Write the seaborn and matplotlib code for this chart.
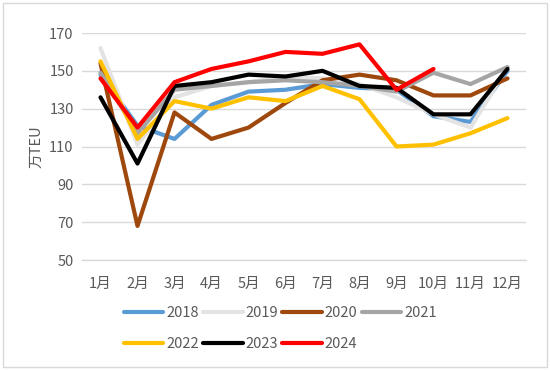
import matplotlib
matplotlib.use("Agg")
import matplotlib.pyplot as plt
import seaborn as sns
import pandas as pd
import numpy as np
from matplotlib.lines import Line2D
from matplotlib.patches import Rectangle

months = ["1月", "2月", "3月", "4月", "5月", "6月", "7月", "8月", "9月", "10月", "11月", "12月"]
y2018 = [148, 121, 114, 132, 139, 140, 143, 141, 140, 126, 123, 150]
y2019 = [162, 111, 136, 142, 144, 147, 146, 143, 136, 127, 120, 152]
y2020 = [154, 68, 128, 114, 120, 133, 145, 148, 145, 137, 137, 146]
y2021 = [149, 117, 140, 142, 144, 145, 144, 142, 139, 149, 143, 152]
y2022 = [155, 114, 134, 130, 136, 134, 142, 135, 110, 111, 117, 125]
y2023 = [136, 101, 142, 144, 148, 147, 150, 142, 141, 127, 127, 151]
y2024 = [146, 120, 144, 151, 155, 160, 159, 164, 140, 151]
years = ["2018", "2019", "2020", "2021", "2022", "2023", "2024"]
series = [y2018, y2019, y2020, y2021, y2022, y2023, y2024]
colors = ["#5B9BD5", "#E3E3E3", "#9E480E", "#A5A5A5", "#FFC000", "#000000", "#FF0000"]

rows = []
for yr, vals in zip(years, series):
    for i, v in enumerate(vals):
        rows.append({"pos": i, "month": months[i], "year": yr, "value": v})
df = pd.DataFrame(rows)

sns.set_theme(style="white")
plt.rcParams["font.family"] = ["Noto Sans CJK SC", "DejaVu Sans"]

fig = plt.figure(figsize=(5.5, 3.7), dpi=100)
ax = fig.add_axes([82/550, 1-260/370, (526-82)/550, (260-33)/370])

sns.lineplot(data=df, x="pos", y="value", hue="year", hue_order=years,
             palette=dict(zip(years, colors)), linewidth=3.0, ax=ax,
             legend=False, sort=False)

ax.set_xlim(-0.5, 11.5)
ax.set_ylim(50, 170)
ax.set_yticks(np.arange(50, 171, 20))
ax.yaxis.grid(True, color="#D9D9D9", linewidth=1.0)
ax.set_axisbelow(True)
ax.set_xticks(range(12))
ax.set_xticklabels(months)
ax.set_xticks(np.arange(-0.5, 12, 1), minor=True)
ax.tick_params(axis="x", which="major", length=0, pad=12, labelsize=10.5, labelcolor="#595959")
ax.tick_params(axis="x", which="minor", length=5, width=1, color="#D9D9D9", direction="out")
ax.tick_params(axis="y", length=0, pad=6, labelsize=10.5, labelcolor="#595959")
for s in ["top", "right", "left"]:
    ax.spines[s].set_visible(False)
ax.spines["bottom"].set_color("#D9D9D9")
ax.spines["bottom"].set_linewidth(1.0)
ax.set_xlabel("")
ax.set_ylabel("万TEU", color="#595959", fontsize=10.5, labelpad=4)

# row-wise legend order for a column-major legend layout
order = [0, 4, 1, 5, 2, 6, 3]
handles = [Line2D([0], [0], color=colors[i], lw=3.0) for i in order]
labels = [years[i] for i in order]
leg = fig.legend(handles, labels, loc="upper left", bbox_to_anchor=(118/550, 1-300/370),
                 ncol=4, frameon=False, fontsize=10.5, handlelength=2.7,
                 handletextpad=0.2, columnspacing=0.3, labelspacing=1.15,
                 borderaxespad=0)
for t in leg.get_texts():
    t.set_color("#595959")

fig.patches.append(Rectangle((3/550, 3/370), 544/550, 364/370, transform=fig.transFigure,
                             fill=False, edgecolor="#D9D9D9", linewidth=1.0))

fig.savefig("out.png", dpi=100)
